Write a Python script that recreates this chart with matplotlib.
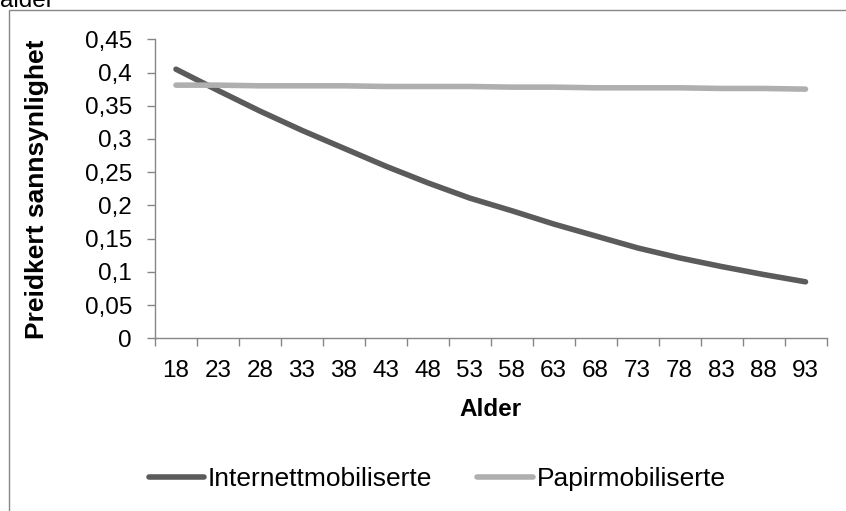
import matplotlib
matplotlib.use("Agg")
import matplotlib.pyplot as plt
from matplotlib.patches import Rectangle
from matplotlib.lines import Line2D

ages = [18, 23, 28, 33, 38, 43, 48, 53, 58, 63, 68, 73, 78, 83, 88, 93]
internett = [0.405, 0.373, 0.342, 0.313, 0.286, 0.259, 0.234, 0.211,
             0.192, 0.172, 0.154, 0.136, 0.121, 0.108, 0.096, 0.085]
papir = [0.381, 0.381, 0.380, 0.380, 0.380, 0.379, 0.379, 0.379,
         0.378, 0.378, 0.377, 0.377, 0.377, 0.376, 0.376, 0.375]
series_names = ["Internettmobiliserte", "Papirmobiliserte"]
y_ticks = [0, 0.05, 0.1, 0.15, 0.2, 0.25, 0.3, 0.35, 0.4, 0.45]
y_labels = ["0", "0,05", "0,1", "0,15", "0,2", "0,25", "0,3", "0,35", "0,4", "0,45"]

plt.rcParams['font.family'] = ['Liberation Sans', 'DejaVu Sans']
FS = 17.5

W, H = 846, 511
fig = plt.figure(figsize=(W / 100, H / 100), dpi=100)

# outer chart border (partially cropped)
fig.add_artist(Rectangle((8.5 / W, -0.2), 2.0, (H - 10) / H + 0.2,
                         transform=fig.transFigure, fill=False,
                         edgecolor="#868686", linewidth=1.0))
fig.text(0.0, 1 - 7 / H, "alder", fontsize=FS, ha="left", va="baseline",
         color="black")

ax = fig.add_axes([155 / W, 1 - 338.3 / H, (826.5 - 155) / W, (338.3 - 39.3) / H])
x = list(range(len(ages)))
dark = "#5b5b5b"
light = "#afafaf"
ax.plot(x, internett, color=dark, lw=4.0, solid_capstyle="round")
ax.plot(x, papir, color=light, lw=4.0, solid_capstyle="round")

ax.set_xlim(-0.5, len(ages) - 0.5)
ax.set_ylim(0, 0.45)
ax.set_yticks(y_ticks)
ax.set_yticklabels(y_labels, fontsize=FS)
ax.set_xticks([i - 0.5 for i in range(len(ages) + 1)])
ax.set_xticklabels([])
ax.set_xticks(x, minor=True)
ax.set_xticklabels([str(a) for a in ages], minor=True, fontsize=FS)
ax.tick_params(axis="x", which="minor", length=0, pad=15.5)
ax.tick_params(axis="x", which="major", length=6, direction="out",
               color="#868686", width=1)
ax.tick_params(axis="y", length=6, direction="out", color="#868686",
               width=1, pad=10.5)
for s in ["top", "right"]:
    ax.spines[s].set_visible(False)
for s in ["left", "bottom"]:
    ax.spines[s].set_color("#868686")
    ax.spines[s].set_linewidth(1)

ax.set_xlabel("Alder", fontsize=FS, fontweight="bold", labelpad=12)
ax.set_ylabel("Preidkert sannsynlighet", fontsize=19, fontweight="bold",
              labelpad=26)

handles = [Line2D([], [], color=dark, lw=4.0, solid_capstyle="round"),
           Line2D([], [], color=light, lw=4.0, solid_capstyle="round")]
fig.legend(handles, series_names, loc="center", bbox_to_anchor=(437 / W, 1 - 479 / H),
           ncol=2, frameon=False, fontsize=19, handlelength=2.1,
           handletextpad=0.15, columnspacing=1.7)

fig.savefig("out.png", dpi=100)
